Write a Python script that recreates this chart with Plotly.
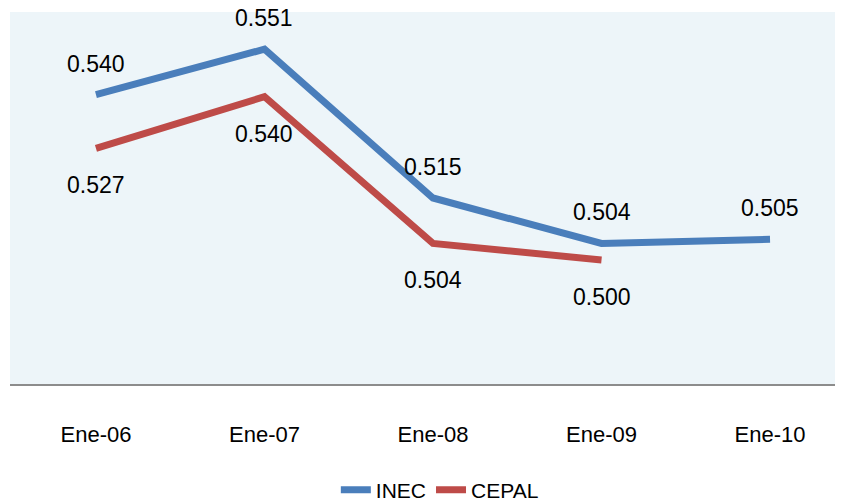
import plotly.graph_objects as go

categories = ["Ene-06", "Ene-07", "Ene-08", "Ene-09", "Ene-10"]
inec = [0.540, 0.551, 0.515, 0.504, 0.505]
cepal = [0.527, 0.5395, 0.504, 0.500, None]
inec_labels = ["0.540", "0.551", "0.515", "0.504", "0.505"]
cepal_labels = ["0.527", "0.540", "0.504", "0.500", None]

blue = "#4A7EBB"
red = "#BE4B48"

fig = go.Figure()
fig.add_trace(go.Scatter(x=list(range(5)), y=inec, mode="lines", name="INEC",
                         line=dict(color=blue, width=7)))
fig.add_trace(go.Scatter(x=list(range(4)), y=cepal[:4], mode="lines", name="CEPAL",
                         line=dict(color=red, width=7)))

lab_font = dict(family="Liberation Sans, Arial", size=23, color="#000000")
for i, (v, t) in enumerate(zip(inec, inec_labels)):
    fig.add_annotation(x=i, y=v, text=t, showarrow=False, yshift=31, font=lab_font)
for i, (v, t) in enumerate(zip(cepal, cepal_labels)):
    if v is None:
        continue
    fig.add_annotation(x=i, y=v, text=t, showarrow=False, yshift=-37, font=lab_font)

fig.update_layout(
    width=835, height=493,
    margin=dict(l=2, r=0, t=4, b=117, autoexpand=False),
    paper_bgcolor="white",
    plot_bgcolor="#EDF5F9",
    showlegend=True,
    legend=dict(orientation="h", x=0.516, xanchor="center", y=-0.285, yanchor="middle",
                font=dict(family="Liberation Sans, Arial", size=21, color="#000000"),
                bgcolor="rgba(0,0,0,0)", itemwidth=30),
    xaxis=dict(range=[-0.51, 4.433], tickmode="array", tickvals=list(range(5)),
               ticktext=categories, showgrid=False, zeroline=False,
               showline=True, linecolor="#8C8C8C", linewidth=2,
               ticks="", ticklabelstandoff=30,
               tickfont=dict(family="Liberation Sans, Arial", size=22, color="#000000")),
    yaxis=dict(range=[0.47, 0.56], showgrid=False, zeroline=False, showline=False,
               showticklabels=False, ticks=""),
)

fig.write_html("out.html")
